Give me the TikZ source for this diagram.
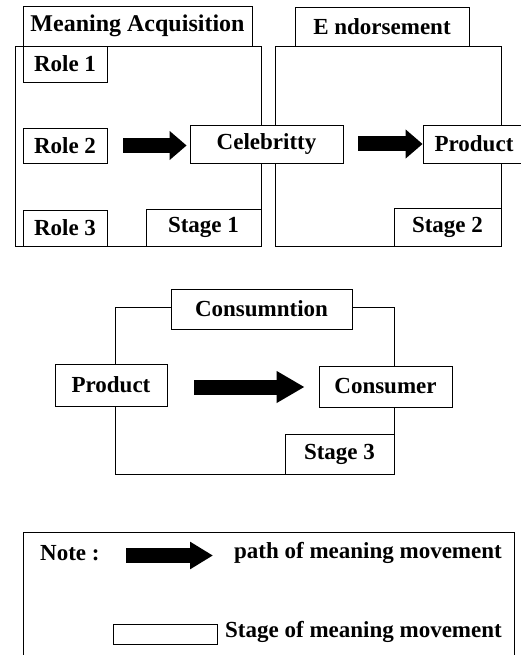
\documentclass[tikz,border=0pt]{standalone}
\usepackage{fontspec}
\setmainfont{Liberation Serif}
\usetikzlibrary{arrows.meta}
\tikzset{
    box/.style={draw, fill=white, line width=0.8pt, inner sep=0pt,
        font=\bfseries\fontsize{23}{26}\selectfont},
    lbl/.style={inner sep=0pt, font=\bfseries\fontsize{23}{26}\selectfont},
    movearrow/.style={line width=15pt, -{Triangle[length=17pt,width=28pt]}}
}
\begin{document}
\begin{tikzpicture}[x=1pt,y=-1pt]
    \useasboundingbox (0,0) rectangle (521,655);
    %% stage frames
    \draw[line width=0.8pt] (15,46) rectangle (261,246);
    \draw[line width=0.8pt] (275,46) rectangle (501,246);
    \draw[line width=0.8pt] (115,307) rectangle (394,474);
    %% stage 1
    \node[box, minimum width=229, minimum height=40, font=\bfseries\fontsize{24}{26}\selectfont]
        (acq) at (137.5,26) {Meaning Acquisition};
    \node[box, minimum width=84, minimum height=36] (role1) at (65,64) {Role 1};
    \node[box, minimum width=84, minimum height=35] (role2) at (65,145.5) {Role 2};
    \node[box, minimum width=84, minimum height=36] (role3) at (65,228) {Role 3};
    \node[box, minimum width=115, minimum height=37] (stage1) at (203.5,227.5) {Stage 1};
    \node[box, minimum width=153, minimum height=38] (celeb) at (266.5,144) {Celebritty};
    %% stage 2
    \node[box, minimum width=174, minimum height=39] (endo) at (382,26.5) {E ndorsement};
    \node[box, minimum width=102, minimum height=38] (prod1) at (474,144) {Product};
    \node[box, minimum width=107, minimum height=38] (stage2) at (447.5,227) {Stage 2};
    %% stage 3
    \node[box, minimum width=181, minimum height=40] (cons) at (261.5,309) {Consumntion};
    \node[box, minimum width=112, minimum height=42] (prod2) at (111,385) {Product};
    \node[box, minimum width=133, minimum height=41] (consumer) at (385.5,386.5) {Consumer};
    \node[box, minimum width=109, minimum height=40] (stage3) at (339.5,454) {Stage 3};
    %% paths of meaning
    \draw[movearrow, shorten <=16pt, shorten >=3pt] (role2.east) -- (role2.east -| celeb.west);
    \draw[movearrow, shorten <=15pt, shorten >=0pt] (celeb.east) -- (celeb.east -| prod1.west);
    \draw[movearrow, -{Triangle[length=28pt,width=30pt]}, shorten <=27pt, shorten >=14pt]
        ([yshift=-2pt]prod2.east) -- ([yshift=-2pt]prod2.east -| consumer.west);
    %% note
    \draw[line width=0.8pt] (23,660) -- (23,532) -- (514,532) -- (514,660);
    \node[lbl, anchor=west] (note) at (40,553) {Note :};
    \node[lbl, anchor=east] (pathtext) at (502,553) {path of meaning movement};
    \coordinate (arrstart) at (126,555.5);
    \coordinate (arrend) at (213,555.5);
    \draw[movearrow, -{Triangle[length=23pt,width=26pt]}] (arrstart) -- (arrend);
    \node[box, minimum width=104, minimum height=20] (stagekey) at (165,634) {};
    \node[lbl, anchor=east] (stagetext) at (502,632) {Stage of meaning movement};
\end{tikzpicture}
\end{document}
